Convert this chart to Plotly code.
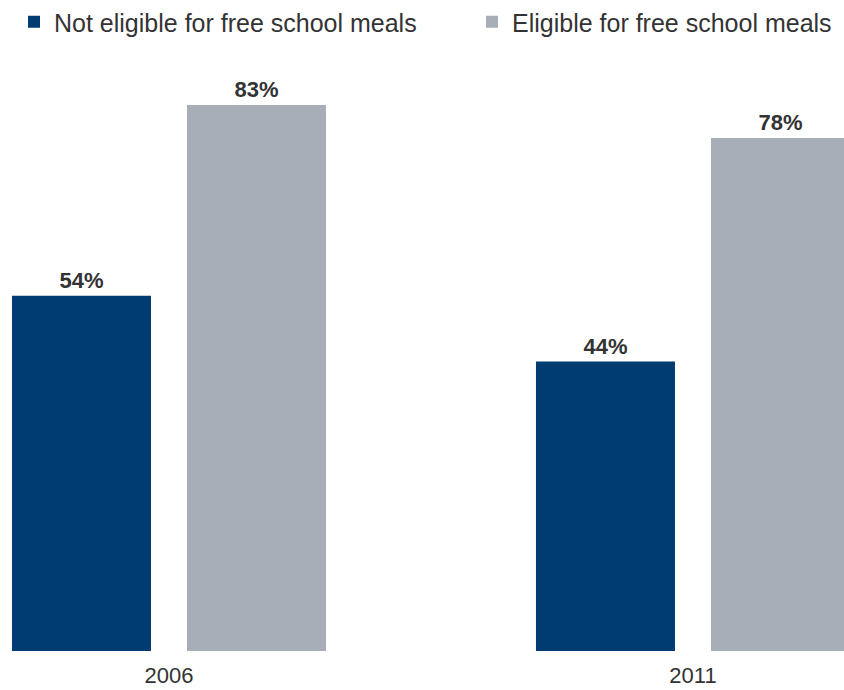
import plotly.graph_objects as go

years = ["2006", "2011"]
not_eligible = [54, 44]
eligible = [83, 78]
series_names = ["Not eligible for free school meals", "Eligible for free school meals"]

x_pos = list(range(len(years)))
FONT = "Liberation Sans, Arial, sans-serif"
TEXT = "#333333"
W, H = 844, 690

fig = go.Figure()
fig.add_trace(go.Bar(
    x=x_pos, y=not_eligible, name=series_names[0], legend="legend",
    marker=dict(color="#003B71", line=dict(width=0)),
    texttemplate="%{y}%", textposition="outside",
    textfont=dict(family=FONT, size=22, color=TEXT, weight="bold"),
    cliponaxis=False,
))
fig.add_trace(go.Bar(
    x=x_pos, y=eligible, name=series_names[1], legend="legend2",
    marker=dict(color="#A7AEB8", line=dict(width=0)),
    texttemplate="%{y}%", textposition="outside",
    textfont=dict(family=FONT, size=22, color=TEXT, weight="bold"),
    cliponaxis=False,
))

leg_common = dict(
    orientation="h", xref="container", yref="container",
    yanchor="middle", y=1 - 22 / H, xanchor="left",
    font=dict(family=FONT, size=25, color=TEXT),
    itemwidth=30, bgcolor="rgba(0,0,0,0)", borderwidth=0,
)

fig.update_layout(
    width=W, height=H,
    margin=dict(l=0, r=0, t=60, b=39, autoexpand=False),
    paper_bgcolor="white", plot_bgcolor="white",
    barmode="group", bargap=0.332, bargroupgap=0.2057,
    font=dict(family=FONT, color=TEXT),
    showlegend=True,
    legend=dict(x=14 / W, **leg_common),
    legend2=dict(x=472 / W, **leg_common),
    xaxis=dict(
        range=[-0.3225, 1.2882], tickvals=x_pos, ticktext=years,
        showgrid=False, zeroline=False, showline=False, ticks="",
        ticklabelstandoff=9,
        tickfont=dict(family=FONT, size=22, color=TEXT),
    ),
    yaxis=dict(
        range=[0, 89.85], visible=False, showgrid=False, zeroline=False,
    ),
)

fig.write_html(
    "out.html",
    config={"displayModeBar": False},
    post_script="document.body.style.margin='0';",
)
